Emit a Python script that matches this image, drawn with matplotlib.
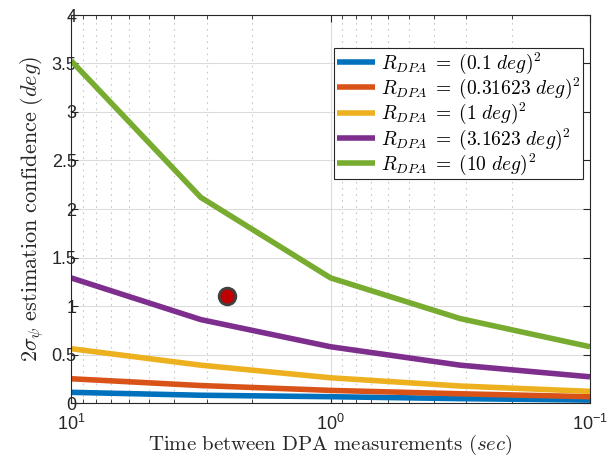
import matplotlib
matplotlib.use("Agg")
import matplotlib.pyplot as plt
import numpy as np
from matplotlib.ticker import LogLocator, NullFormatter

plt.rcParams['mathtext.fontset'] = 'cm'
plt.rcParams['font.family'] = ['Liberation Sans', 'DejaVu Sans']

t = [10, 3.1623, 1, 0.31623, 0.1]
labels = [r'$R_{DPA}\;=\;(0.1\ deg)^2$', r'$R_{DPA}\;=\;(0.31623\ deg)^2$',
          r'$R_{DPA}\;=\;(1\ deg)^2$', r'$R_{DPA}\;=\;(3.1623\ deg)^2$',
          r'$R_{DPA}\;=\;(10\ deg)^2$']
s_01 = [0.11, 0.08, 0.065, 0.045, 0.03]
s_0316 = [0.25, 0.18, 0.13, 0.095, 0.065]
s_1 = [0.56, 0.39, 0.26, 0.175, 0.12]
s_316 = [1.29, 0.86, 0.58, 0.39, 0.27]
s_10 = [3.53, 2.12, 1.29, 0.87, 0.58]
series = [s_01, s_0316, s_1, s_316, s_10]
colors = ['#0072BD', '#D95319', '#EDB120', '#7E2F8E', '#77AC30']
pt_x = [2.5]
pt_y = [1.10]

fig = plt.figure(figsize=(6.13, 4.61), dpi=100)
ax = fig.add_axes([71/613, 1-403/461, (590-71)/613, (403-15)/461])
for s, c, l in zip(series, colors, labels):
    ax.plot(t, s, color=c, lw=4, label=l, solid_capstyle='butt')
ax.plot(pt_x, pt_y, 'o', ms=12, mfc='#C00000', mec='#404040', mew=2, zorder=5)

ax.set_xscale('log')
ax.set_xlim(10, 0.1)
ax.set_ylim(0, 4)
ax.set_yticks(np.arange(0, 4.01, 0.5))
ax.set_yticklabels(['0', '0.5', '1', '1.5', '2', '2.5', '3', '3.5', '4'])
ax.xaxis.set_minor_locator(LogLocator(base=10, subs=np.arange(2, 10)))
ax.xaxis.set_minor_formatter(NullFormatter())
ax.grid(True, which='major', color='#dcdcdc', lw=0.8)
ax.grid(True, which='minor', axis='x', color='#c8c8c8', lw=0.8, ls=(0, (1.5, 4)))
ax.set_axisbelow(True)
ax.tick_params(which='both', direction='in', top=True, right=True, color='#262626')
ax.tick_params(which='major', length=5, labelsize=13, colors='#262626')
ax.tick_params(which='minor', length=3)
ax.tick_params(axis='y', pad=-4)
ax.tick_params(axis='x', pad=8)
for sp in ax.spines.values():
    sp.set_color('#262626')
    sp.set_linewidth(0.8)

ax.set_xlabel(r'$\mathrm{Time\ between\ DPA\ measurements}\ (sec)$', fontsize=15,
              color='#262626')
ax.xaxis.set_label_coords(0.5, -(433 - 403) / 388)
ax.set_ylabel(r'$2\sigma_\psi\ \mathrm{estimation\ confidence}\ (deg)$', fontsize=16,
              color='#262626', labelpad=4)
leg = ax.legend(loc='upper right', bbox_to_anchor=(1-7/519, 1-33/388), fontsize=14,
                fancybox=False, framealpha=1, edgecolor='#262626',
                handlelength=2.0, handletextpad=0.3, labelspacing=0.0, borderpad=0.12,
                borderaxespad=0)
leg.get_frame().set_linewidth(0.8)
fig.savefig('out.png', dpi=100)
